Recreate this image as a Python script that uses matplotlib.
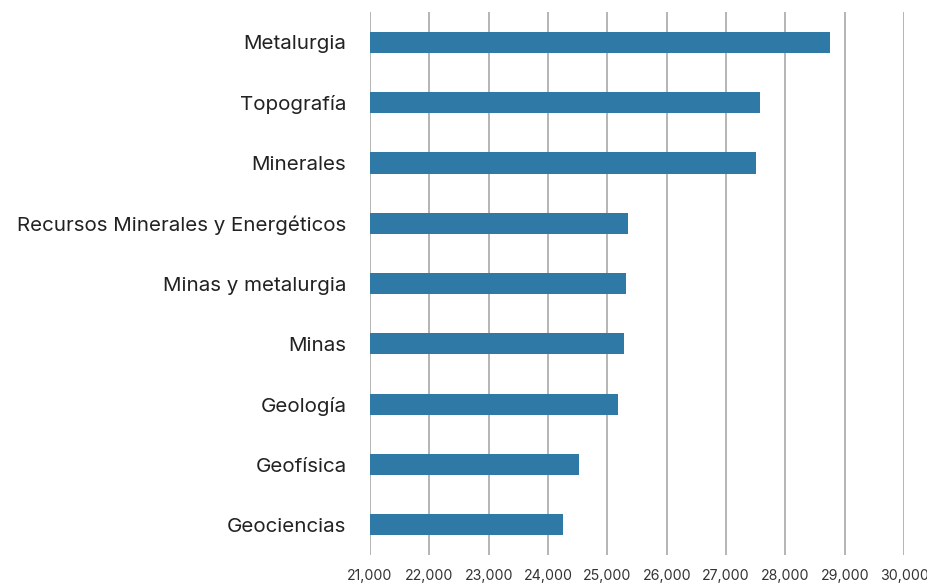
import matplotlib.pyplot as plt
from matplotlib.ticker import FuncFormatter

categories = ['Metalurgia', 'Topografía', 'Minerales', 'Recursos Minerales y Energéticos',
              'Minas y metalurgia', 'Minas', 'Geología', 'Geofísica', 'Geociencias']
values = [28750, 27580, 27510, 25350, 25310, 25280, 25180, 24520, 24250]
x_ticks = list(range(21000, 31000, 1000))

plt.rcParams['font.family'] = ['Inter', 'DejaVu Sans']

fig = plt.figure(figsize=(9.28, 5.83), dpi=100)
ax = fig.add_axes([0.3987, 0.048, 0.5755, 0.931])

pos = list(range(len(categories)))
ax.barh(pos, [v - 21000 for v in values], left=21000, height=0.35,
        color='#2e79a6', zorder=3)

ax.set_xlim(21000, 30000)
ax.set_ylim(len(categories) - 0.5, -0.5)
ax.set_xticks(x_ticks)
ax.xaxis.set_major_formatter(FuncFormatter(lambda v, p: f'{int(v):,}'))
ax.set_yticks(pos)
ax.set_yticklabels(categories, fontsize=14.8, color='#222222')
ax.grid(axis='x', color='#a8a8a8', linewidth=1.2, zorder=0)
for s in ax.spines.values():
    s.set_visible(False)
ax.tick_params(axis='y', length=0, pad=17)
ax.tick_params(axis='x', length=0, pad=10, labelsize=10.2, labelcolor='#333333')

fig.savefig('out.png', dpi=100, facecolor='white')
